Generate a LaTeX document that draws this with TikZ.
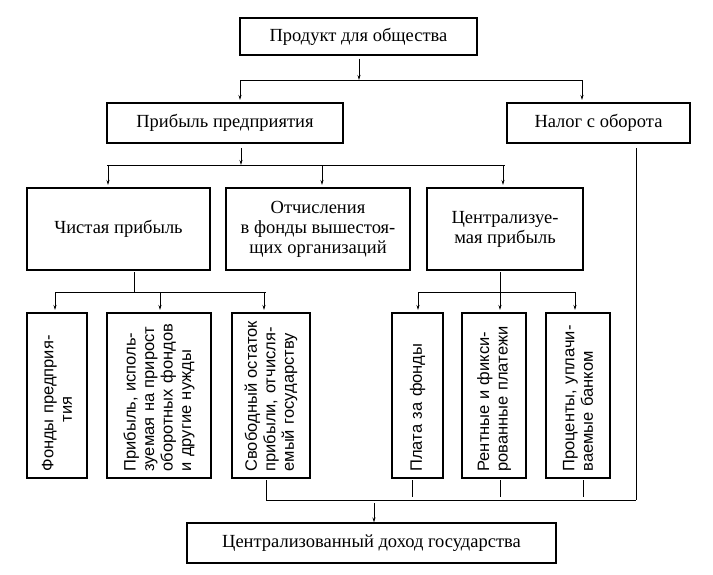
\documentclass[tikz,border=0pt]{standalone}
\usepackage{fontspec}
\setmainfont{Liberation Serif}
\setsansfont{Liberation Sans}
\usetikzlibrary{arrows.meta}
\begin{document}
\begin{tikzpicture}[x=1pt,y=-1pt,line width=1.1pt,
  hbox/.style={draw,rectangle,inner sep=0pt,font=\fontsize{18.5}{20}\selectfont,align=center},
  vbox/.style={draw,rectangle,inner sep=2pt,rotate=90,font=\sffamily\fontsize{16.5}{18.5}\selectfont,align=left,text width=152pt},
  arr/.style={-{Stealth[length=5pt,width=3pt]},line width=0.8pt},
  ln/.style={line width=0.9pt}]
\useasboundingbox (0,0) rectangle (713,574);
\newcommand{\bx}[6]{\node[hbox,minimum width=#4-#2,minimum height=#5-#3] (#1) at ({(#2+#4)/2},{(#3+#5)/2}) {#6};}
\newcommand{\vb}[6]{\node[vbox,minimum width=#5-#3,minimum height=#4-#2] (#1) at ({(#2+#4)/2},{(#3+#5)/2}) {#6};}
\bx{prod}{240}{18}{477}{55}{Продукт для общества}
\bx{prib}{107}{103}{343}{143}{Прибыль предприятия}
\bx{nalog}{507}{103}{690}{143}{Налог с оборота}
\bx{chist}{27}{188}{210}{270}{Чистая прибыль}
\bx{otch}{226}{188}{410}{270}{Отчисления\\в фонды вышестоя-\\щих организаций}
\bx{centr}{427}{188}{583}{270}{Централизуе-\\мая прибыль}
\vb{f1}{27}{313}{87}{478}{Фонды предприя-\\\qquad\quad тия}
\vb{f2}{107}{313}{211}{478}{Прибыль, исполь-\\зуемая на прирост\\оборотных фондов\\и другие нужды}
\vb{f3}{232}{313}{310}{478}{Свободный остаток\\прибыли, отчисля-\\емый государству}
\vb{f4}{392}{313}{443}{478}{Плата за фонды}
\vb{f5}{462}{313}{526}{478}{Рентные и фикси-\\рованные платежи}
\vb{f6}{546}{313}{610}{478}{Проценты, уплачи-\\ваемые банком}
\bx{doh}{187}{523}{556}{563}{Централизованный доход государства}
% level 1
\coordinate (b1) at (359,80);
\draw[arr] (prod.south -| b1) ++(0,3) -- (b1);
\draw[ln] (240,80) -- (582,80);
\draw[arr] (240,80) -- (240,100);
\draw[arr] (582,80) -- (582,100);
% level 2
\coordinate (b2) at (241,165);
\draw[arr] (241,148) -- (b2);
\draw[ln] (107,165) -- (505,165);
\foreach \x in {108,322,503} \draw[arr] (\x,165) -- (\x,185);
% level 3
\draw[ln] (134,272) -- (134,292);
\draw[ln] (55,292) -- (266,292);
\foreach \x in {55,160,264} \draw[arr] (\x,292) -- (\x,310);
\draw[ln] (500,272) -- (500,292);
\draw[ln] (418,292) -- (575,292);
\foreach \x in {418,500,575} \draw[arr] (\x,292) -- (\x,310);
% bottom
\draw[ln] (636,148) -- (636,500);
\draw[ln] (266,480) -- (266,500) -- (636,500);
\foreach \x in {412,500,583} \draw[ln] (\x,480) -- (\x,497);
\draw[arr] (374,503) -- (doh.north -| 374,0);
\end{tikzpicture}
\end{document}
